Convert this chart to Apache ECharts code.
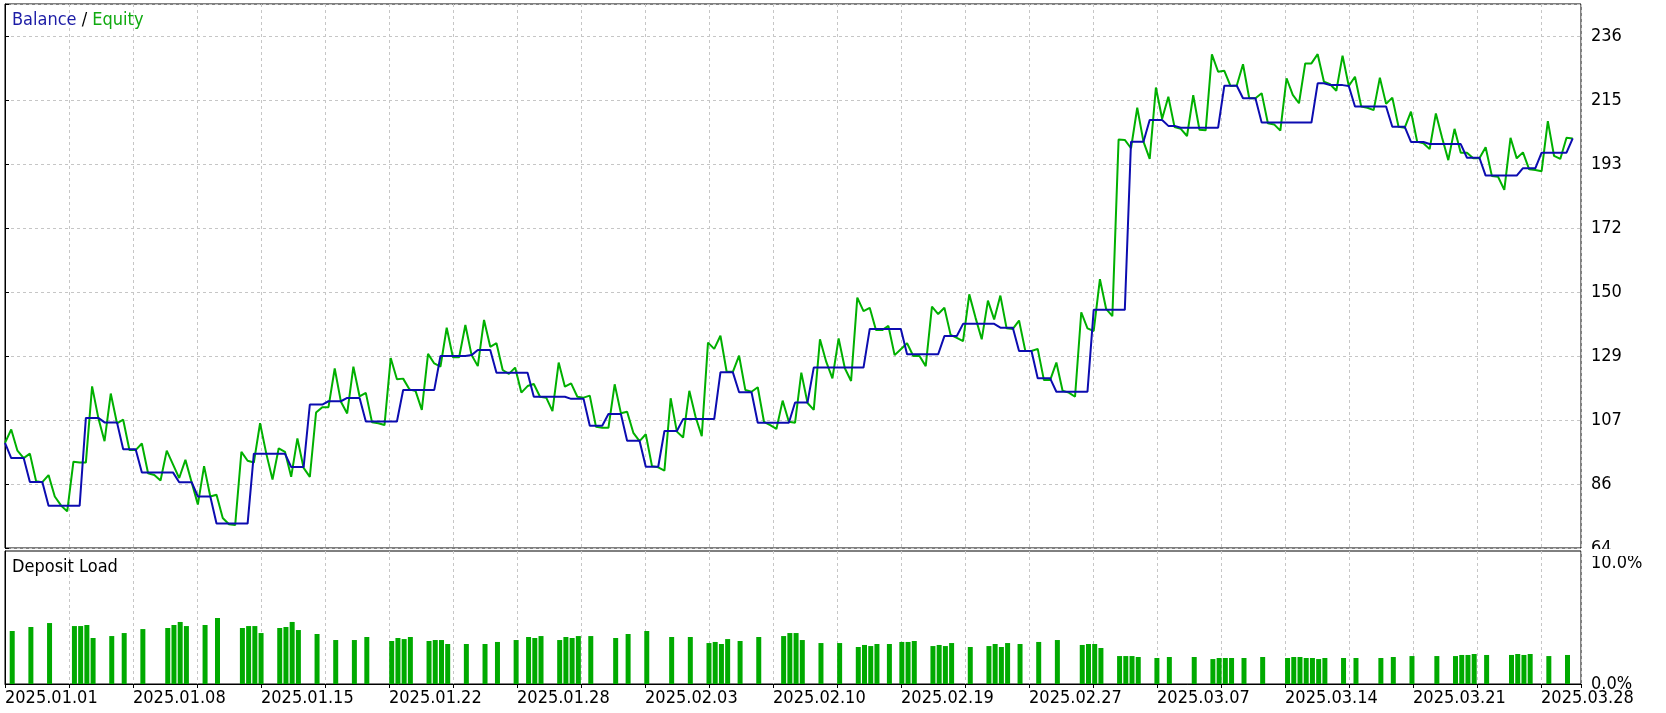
<!DOCTYPE html>
<html><head><meta charset="utf-8">
<script src="https://cdn.jsdelivr.net/npm/echarts/dist/echarts.min.js"></script>
<style>html,body{margin:0;padding:0;background:#fff;}#c{width:1666px;height:713px;}</style>
</head><body><div id="c"></div>
<script>
// ---- data ----
const xLabels = ['2025.01.01','2025.01.08','2025.01.15','2025.01.22','2025.01.28','2025.02.03','2025.02.10','2025.02.19','2025.02.27','2025.03.07','2025.03.14','2025.03.21','2025.03.28'];
const yTickLabels = ['64','86','107','129','150','172','193','215','236'];
const loadTickLabels = ['0.0%','10.0%'];

const balance = [
 99.3,
 94.2,94.2,94.2,
 86.2,86.2,86.2,
 78.2,78.2,78.2,78.2,78.2,78.2,
 107.7,107.7,107.7,
 106.2,106.2,106.2,
 97.2,97.2,97.2,
 89.4,89.4,89.4,89.4,89.4,89.4,
 86.1,86.1,86.1,
 81.3,81.3,81.3,
 72.2,72.2,72.2,72.2,72.2,72.2,
 95.7,95.7,95.7,95.7,95.7,95.7,
 91.2,91.2,91.2,
 112.2,112.2,112.2,
 113.3,113.3,113.3,
 114.4,114.4,114.4,
 106.5,106.5,106.5,106.5,106.5,106.5,
 117.1,117.1,117.1,117.1,117.1,117.1,
 128.5,128.5,128.5,128.5,128.5,
 128.8,
 130.5,130.5,130.5,
 122.9,122.9,122.9,122.9,122.9,122.9,
 114.8,114.8,114.8,114.8,114.8,114.8,
 114.1,114.1,114.1,
 105.1,105.1,105.1,
 109.0,109.0,109.0,
 100.0,100.0,100.0,
 91.3,91.3,91.3,
 103.3,103.3,103.3,
 107.3,107.3,107.3,107.3,107.3,107.3,
 123.0,123.0,123.0,
 116.3,116.3,116.3,
 106.1,106.1,106.1,106.1,106.1,106.1,
 112.9,112.9,112.9,
 124.6,124.6,124.6,124.6,124.6,124.6,124.6,124.6,124.6,
 137.6,137.6,137.6,137.6,137.6,137.6,
 129.1,129.1,129.1,129.1,129.1,129.1,
 135.2,135.2,135.2,
 139.3,139.3,139.3,139.3,139.3,139.3,
 138.0,138.0,138.0,
 130.2,130.2,130.2,
 121.0,121.0,121.0,
 116.5,116.5,116.5,116.5,116.5,116.5,
 144.0,144.0,144.0,144.0,144.0,144.0,
 200.5,200.5,200.5,
 207.8,207.8,207.8,
 205.8,205.8,
 205.2,205.2,205.2,205.2,205.2,205.2,205.2,
 219.3,219.3,219.3,
 215.1,215.1,215.1,
 206.9,206.9,206.9,206.9,206.9,206.9,206.9,206.9,206.9,
 220.1,220.1,
 219.5,219.5,219.5,
 219.2,
 212.3,212.3,212.3,212.3,212.3,212.3,
 205.5,205.5,205.5,
 200.4,200.4,200.4,
 199.7,199.7,199.7,199.7,199.7,199.7,
 195.1,195.1,195.1,
 189.1,189.1,189.1,189.1,189.1,189.1,
 191.6,191.6,191.6,
 196.8,196.8,196.8,196.8,196.8,
 201.6
];

const equity = [
 99.3,103.8,96.7,94.2,95.7,86.4,86.1,88.5,81.3,78.3,
 76.3,93.0,92.7,92.7,118.3,107.7,99.9,115.9,105.9,107.1,
 96.9,96.9,99.1,89.1,88.5,86.7,96.7,92.1,87.5,93.6,
 86.1,78.6,91.5,81.3,81.9,74.1,72.0,71.7,96.3,93.3,
 92.7,105.9,95.7,87.0,97.5,96.3,87.9,100.8,90.9,87.9,
 109.5,111.3,111.3,124.3,113.1,109.2,124.9,114.9,116.1,106.2,
 105.9,105.3,127.8,120.7,120.9,117.3,116.7,110.4,129.2,126.0,
 124.9,138.0,128.1,128.1,138.9,128.8,125.1,140.6,131.6,132.8,
 123.8,122.5,124.6,116.2,118.4,119.1,114.8,114.5,110.0,126.3,
 118.2,119.3,114.8,114.5,115.2,104.7,104.4,104.4,119.0,109.3,
 109.8,102.7,99.9,102.2,91.5,91.1,90.0,114.3,103.1,101.1,
 116.8,108.1,101.6,133.0,130.9,135.3,123.2,123.2,128.6,117.1,
 116.5,118.0,106.4,105.3,104.0,113.5,106.4,106.1,122.9,112.7,
 110.4,134.1,126.6,121.0,134.4,124.4,120.1,148.1,143.6,144.7,
 137.2,137.2,138.6,128.8,130.8,132.8,128.5,128.5,125.1,145.1,
 142.6,144.7,135.6,134.6,133.5,149.2,141.4,134.1,147.1,140.8,
 148.8,137.8,137.6,140.4,130.3,130.2,130.9,120.4,120.4,126.3,
 116.8,116.2,114.8,143.2,137.8,136.9,154.3,144.3,141.9,201.2,
 201.1,198.3,211.9,200.5,194.7,218.7,208.2,215.6,205.4,204.8,
 202.4,216.1,204.5,204.3,229.8,224.0,224.3,219.2,219.4,226.5,
 215.1,215.1,216.8,206.7,206.3,204.2,221.8,216.2,213.4,226.8,
 226.8,229.9,220.7,219.8,217.6,229.4,219.2,222.3,212.3,211.9,
 211.1,222.0,213.2,215.3,205.5,205.2,210.6,200.5,200.0,198.0,
 210.0,201.8,194.3,204.8,196.8,196.8,194.9,194.9,198.6,189.0,
 188.7,184.3,201.8,194.9,196.9,191.2,191.0,190.6,207.4,195.7,
 194.7,201.8,201.6
];

const loadSlots = [
 0,3,6,10,11,12,13,16,18,21,25,26,27,28,31,33,37,38,39,40,
 43,44,45,46,49,52,55,57,61,62,63,64,67,68,69,70,73,76,78,81,
 83,84,85,88,89,90,91,93,97,99,102,106,109,112,113,114,115,117,120,124,
 125,126,127,130,133,136,137,138,139,141,143,144,145,148,149,150,151,154,157,158,
 159,160,162,165,
 168,172,173,174,175,178,179,180,181,184,186,190,193,194,195,196,198,201,205,206,
 207,208,209,210,211,214,216,220,222,225,229,232,233,234,235,237,241,242,243,244,
 247,250
];
const loadValues = [
 4.40,4.73,5.06,4.81,4.81,4.90,3.82,3.98,4.23,4.56,4.65,4.90,5.15,4.81,4.90,5.48,4.65,4.81,4.81,4.23,
 4.65,4.73,5.15,4.48,4.15,3.65,3.65,3.90,3.57,3.82,3.73,3.90,3.57,3.65,3.65,3.32,3.32,3.32,3.49,3.65,
 3.90,3.82,3.98,3.65,3.90,3.82,3.98,3.98,3.82,4.15,4.40,3.90,3.90,3.40,3.49,3.32,3.73,3.57,3.90,3.98,
 4.23,4.23,3.65,3.40,3.40,3.07,3.24,3.15,3.32,3.32,3.49,3.49,3.57,3.15,3.24,3.15,3.40,3.07,3.15,3.32,
 3.07,3.40,3.32,3.49,
 3.65,3.24,3.32,3.32,2.99,2.32,2.32,2.32,2.24,2.16,2.24,2.24,2.07,2.16,2.16,2.16,2.16,2.24,2.16,2.24,
 2.24,2.16,2.16,2.07,2.16,2.16,2.16,2.16,2.24,2.32,2.32,2.32,2.41,2.41,2.49,2.41,2.41,2.49,2.41,2.49,
 2.32,2.41
];

// ---- layout / style ----
const FONT = "'DejaVu Sans Condensed','Liberation Sans',Arial,sans-serif";
const Y_MIN = 64, Y_STEP = 21.5, Y_MAX = 246.75;
const X_MAX = 253.33, X_STEP = 10.288, BAR_SHIFT = 1.16;
const GRID_LINE = {show:true, lineStyle:{color:'#c6c6c6', type:[3,3], width:1}};
const BLUE = '#0c0cb0', GREEN = '#00b000', BARC = '#00aa00';

function xLabelFmt(v){
  const j = Math.round(v / X_STEP);
  if (Math.abs(v - j * X_STEP) > 0.01 || j % 2) return '';
  return xLabels[j / 2] || '';
}
function yLabelFmt(v){
  const j = Math.round((v - Y_MIN) / Y_STEP);
  if (Math.abs(v - (Y_MIN + j * Y_STEP)) > 0.01) return '';
  return yTickLabels[j] || '';
}
function loadLabelFmt(v){
  if (v === 0) return loadTickLabels[0];
  if (v === 10) return loadTickLabels[1];
  return '';
}

const chart = echarts.init(document.getElementById('c'), null, {renderer:'canvas'});
chart.setOption({
  animation:false,
  backgroundColor:'#ffffff',
  textStyle:{fontFamily:FONT},
  grid:[
    {left:5, right:85, top:4, height:544, show:true, borderColor:'#000', borderWidth:1, backgroundColor:'rgba(0,0,0,0)'},
    {left:5, right:85, top:551, bottom:29, show:true, borderColor:'#000', borderWidth:1, backgroundColor:'rgba(0,0,0,0)'}
  ],
  xAxis:[
    {gridIndex:0, type:'value', min:0, max:X_MAX, interval:X_STEP,
     axisLine:{show:false}, axisTick:{show:false}, axisLabel:{show:false}, splitLine:GRID_LINE},
    {gridIndex:1, type:'value', min:0, max:X_MAX, interval:X_STEP, position:'bottom',
     axisLine:{show:true, lineStyle:{color:'#000', width:1}},
     axisTick:{show:true, length:4, lineStyle:{color:'#000'}},
     axisLabel:{show:true, formatter:xLabelFmt, align:'left', margin:5, color:'#000', fontSize:18, fontFamily:FONT, showMinLabel:true, hideOverlap:false},
     splitLine:GRID_LINE},
    {gridIndex:1, type:'value', min:-BAR_SHIFT, max:X_MAX - BAR_SHIFT, show:false, splitLine:{show:false}}
  ],
  yAxis:[
    {gridIndex:0, type:'value', position:'right', min:Y_MIN, max:Y_MAX, interval:Y_STEP,
     axisLine:{show:true, lineStyle:{color:'#000'}},
     axisTick:{show:true, length:4, lineStyle:{color:'#000'}},
     axisLabel:{formatter:yLabelFmt, margin:10, color:'#000', fontSize:18, fontFamily:FONT, showMinLabel:true},
     splitLine:GRID_LINE},
    {gridIndex:1, type:'value', position:'right', min:0, max:11.04, interval:10,
     axisLine:{show:true, lineStyle:{color:'#000'}},
     axisTick:{show:false},
     axisLabel:{formatter:loadLabelFmt, margin:10, color:'#000', fontSize:18, fontFamily:FONT, showMinLabel:true},
     splitLine:{show:false}}
  ],
  series:[
    {type:'line', name:'Equity', xAxisIndex:0, yAxisIndex:0, symbol:'none', z:2,
     lineStyle:{color:GREEN, width:2}, data:equity.map((v,i)=>[i,v])},
    {type:'line', name:'Balance', xAxisIndex:0, yAxisIndex:0, symbol:'none', z:3,
     lineStyle:{color:BLUE, width:2}, data:balance.map((v,i)=>[i,v])},
    {type:'bar', name:'Deposit Load', xAxisIndex:2, yAxisIndex:1, barWidth:5,
     itemStyle:{color:BARC}, data:loadSlots.map((s,i)=>[s, loadValues[i]])}
  ],
  graphic:[
    {type:'text', x:12, y:20, z:50, style:{text:'{b|Balance} / {e|Equity}', fill:'#000', fontSize:18, fontFamily:FONT, verticalAlign:'middle',
      rich:{b:{fill:'#1c1ca6', fontSize:18, fontFamily:FONT}, e:{fill:'#10aa10', fontSize:18, fontFamily:FONT}}}},
    {type:'text', x:12, y:567, z:50, style:{text:'Deposit Load', fill:'#000', fontSize:18, fontFamily:FONT, verticalAlign:'middle'}},
    {type:'rect', z:100, shape:{x:1583, y:549, width:83, height:7}, style:{fill:'#ffffff'}}
  ]
});
</script></body></html>
